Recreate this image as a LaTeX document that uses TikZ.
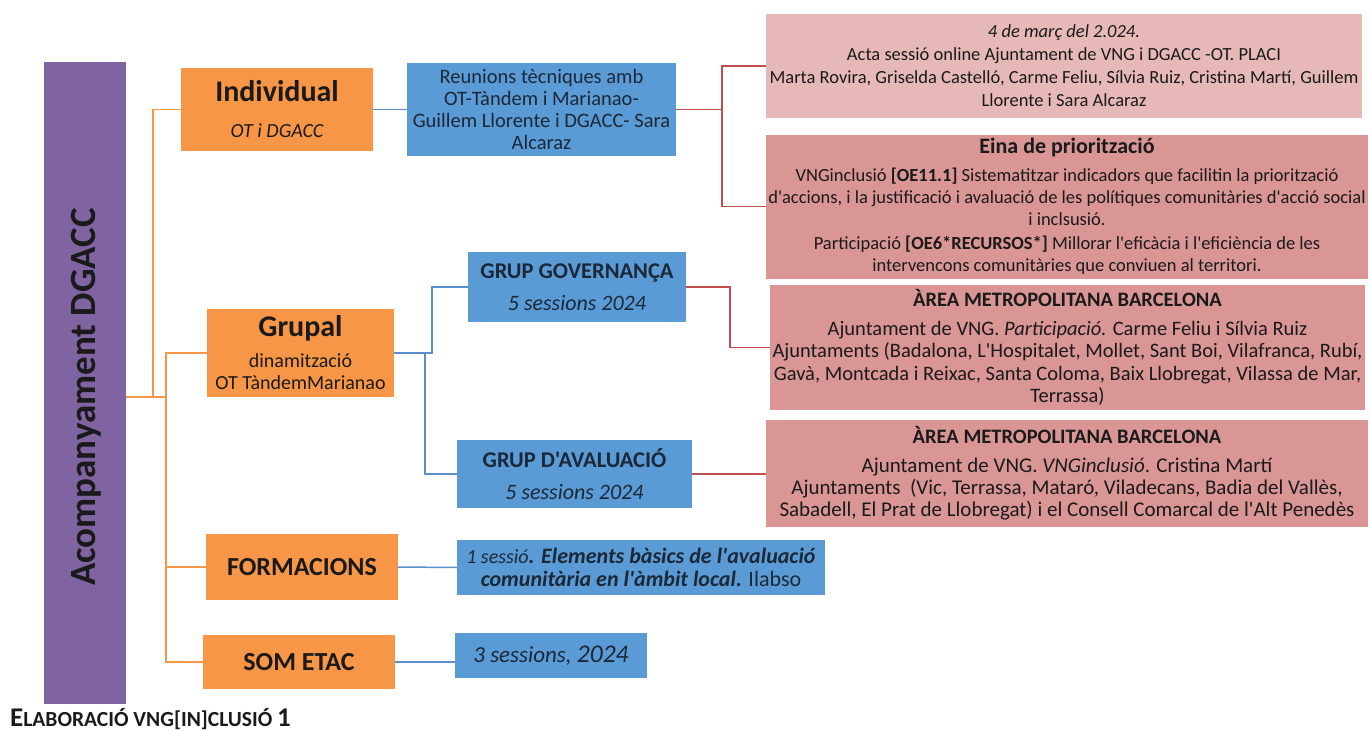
\documentclass[tikz,border=0pt]{standalone}
\usepackage{fontspec}
\setmainfont{Carlito}[Ligatures=TeXOff]
\definecolor{purp}{HTML}{8064A2}
\definecolor{orng}{HTML}{F79646}
\definecolor{blu}{HTML}{5B9BD5}
\definecolor{pinkA}{HTML}{E6B9B8}
\definecolor{pinkB}{HTML}{D99694}
\definecolor{redline}{HTML}{C0504D}
\definecolor{bluline}{HTML}{5B8FCB}
\definecolor{navytext}{HTML}{1B2838}
\definecolor{dark}{HTML}{1A1A1A}
\newcommand{\fs}[2]{\fontsize{#1}{#2}\selectfont}
\tikzset{
  basebox/.style={inner sep=0pt, outer sep=0pt, align=center, text=dark},
  rootbox/.style={basebox, fill=purp},
  obox/.style={basebox, fill=orng},
  bbox/.style={basebox, fill=blu, text=navytext},
  pboxA/.style={basebox, fill=pinkA},
  pboxB/.style={basebox, fill=pinkB},
  oline/.style={draw=orng, line width=1.5pt},
  bline/.style={draw=bluline, line width=1.5pt},
  rline/.style={draw=redline, line width=1.5pt},
}
\begin{document}
\begin{tikzpicture}[x=1pt, y=-1pt]
\path[use as bounding box] (0,0) rectangle (1371,731);
% root
\node[rootbox, minimum width=82pt, minimum height=642pt] (root) at (85,383) {};
\node[text=dark, rotate=90, font=\bfseries\fs{37}{40}] (roottxt) at (86,397) {Acompanyament DGACC};
% orange
\node[obox, minimum width=192pt, minimum height=83pt, font=\fs{20}{36}] (ind) at (277,109.5)
  {{\bfseries\fs{30}{36}Individual}\\{\itshape OT i DGACC}};
\node[obox, minimum width=187pt, minimum height=88pt, font=\fs{20}{22}] (grp) at (300.5,353)
  {{\bfseries\fs{30}{30}Grupal}\\[9pt]dinamització\\OT TàndemMarianao};
\node[obox, minimum width=192pt, minimum height=66pt, font=\bfseries\fs{26}{30}] (form) at (302,567)
  {FORMACIONS};
\node[obox, minimum width=192pt, minimum height=54pt, font=\bfseries\fs{26}{30}] (som) at (299,662)
  {SOM ETAC};
% blue
\node[bbox, minimum width=269pt, minimum height=93pt, font=\fs{20.5}{22}] (reu) at (541.5,109.5)
  {Reunions tècniques amb\\OT-Tàndem i Marianao-\\Guillem Llorente i DGACC- Sara\\Alcaraz};
\node[bbox, minimum width=218pt, minimum height=70pt, font=\fs{22}{32}] (gov) at (577,287)
  {{\bfseries\fs{22.5}{32}GRUP GOVERNANÇA}\\{\itshape 5 sessions 2024}};
\node[bbox, minimum width=235pt, minimum height=68pt, font=\fs{22}{32}] (aval) at (574.5,474)
  {{\bfseries\fs{22.5}{32}GRUP D'AVALUACIÓ}\\{\itshape 5 sessions 2024}};
\node[bbox, minimum width=368pt, minimum height=55pt, font=\fs{22}{23.5}] (formb) at (641,567.5)
  {{\itshape\fs{20}{23}1 sessió}\textbf{\textit{. Elements bàsics de l'avaluació}}\\\textbf{\textit{comunitària en l'àmbit local.}} Ilabso};
\node[bbox, minimum width=192pt, minimum height=45pt, font=\itshape\fs{23}{26}] (somb) at (551,655.5)
  {3 sessions, {\fs{25.5}{26}2024}};
% pink
\node[pboxA, minimum width=596pt, minimum height=104pt, font=\fs{18.5}{23}] (p1) at (1064,66)
  {{\itshape 4 de març del 2.024.}\\Acta sessió online Ajuntament de VNG i DGACC -OT. PLACI\\Marta Rovira, Griselda Castelló, Carme Feliu, Sílvia Ruiz, Cristina Martí, Guillem\\Llorente i Sara Alcaraz};
\node[pboxB, minimum width=602pt, minimum height=144pt, font=\fs{18.5}{22}] (p2) at (1067,206.5)
  {{\bfseries\fs{22}{22}Eina de priorització}\\[6pt]VNGinclusió \textbf{[OE11.1]} Sistematitzar indicadors que facilitin la priorització\\d'accions, i la justificació i avaluació de les polítiques comunitàries d'acció social\\i inclsusió.\\[2pt]Participació \textbf{[OE6*RECURSOS*]} Millorar l'eficàcia i l'eficiència de les\\intervencons comunitàries que conviuen al territori.};
\node[pboxB, minimum width=595pt, minimum height=125pt, font=\fs{20.5}{22.5}] (p3) at (1067.5,347.5)
  {{\bfseries\fs{20.5}{22}ÀREA METROPOLITANA BARCELONA}\\[6pt]Ajuntament de VNG. \textit{Participació.} Carme Feliu i Sílvia Ruiz\\Ajuntaments (Badalona, L'Hospitalet, Mollet, Sant Boi, Vilafranca, Rubí,\\Gavà, Montcada i Reixac, Santa Coloma, Baix Llobregat, Vilassa de Mar,\\Terrassa)};
\node[pboxB, minimum width=602pt, minimum height=107pt, font=\fs{21}{22}] (p4) at (1067,473.5)
  {{\bfseries\fs{20.5}{22}ÀREA METROPOLITANA BARCELONA}\\[7pt]Ajuntament de VNG. \textit{VNGinclusió}. Cristina Martí\\Ajuntaments~~(Vic, Terrassa, Mataró, Viladecans, Badia del Vallès,\\Sabadell, El Prat de Llobregat) i el Consell Comarcal de l'Alt Penedès};
% caption
\node[anchor=south west, inner sep=0pt, text=dark, font=\bfseries] (cap) at (10,730)
  {\fs{27}{28}E\fs{21.5}{28}LABORACIÓ VNG[IN]CLUSIÓ \fs{27}{28}1};
% orange connectors
\coordinate (ra) at (153,397);
\coordinate (rb) at (166,397);
\draw[oline] (root.east |- ra) -- (rb);
\draw[oline] (ra) |- (ind.west);
\draw[oline] (rb) |- (grp.west);
\draw[oline] (rb) |- (form.west);
\draw[oline] (rb) |- (som.west);
% blue connectors
\coordinate (ga) at (432,353);
\coordinate (gb) at (425,353);
\draw[bline] (ind.east) -- (reu.west);
\draw[bline] (grp.east) -- (ga) |- (gov.west);
\draw[bline] (gb) |- (aval.west);
\draw[bline] (form.east) -- (formb.west);
\draw[bline] (som.east) -- (som.east -| somb.west);
% red connectors
\coordinate (r1) at (722,109.5);
\coordinate (r2) at (730,287);
\draw[rline] (reu.east) -- (r1);
\draw[rline] (r1) |- (p1.west);
\draw[rline] (r1) |- (p2.west);
\draw[rline] (gov.east) -- (r2) |- (p3.west);
\draw[rline] (aval.east) -- (aval.east -| p4.west);
\end{tikzpicture}
\end{document}
